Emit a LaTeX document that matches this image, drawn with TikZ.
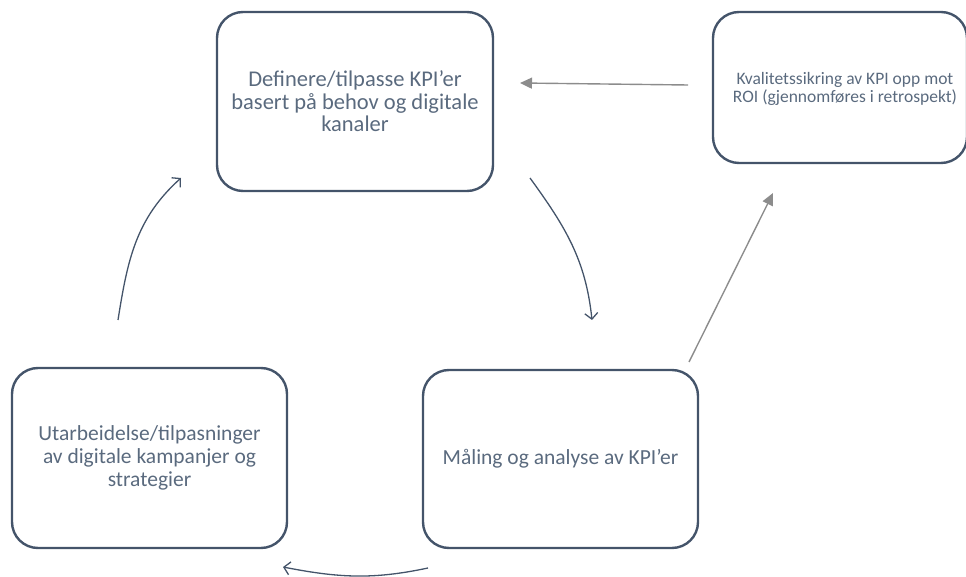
\documentclass[tikz,border=0pt]{standalone}
\usepackage{fontspec}
\setmainfont{Carlito}
\usetikzlibrary{arrows.meta}
\definecolor{boxline}{HTML}{44546A}
\definecolor{boxtext}{HTML}{5A6A7E}
\definecolor{grayarrow}{HTML}{8C8C8C}
\tikzset{
  stage/.style={draw=boxline, line width=2.4pt, rounded corners=26pt, align=center,
    text=boxtext, inner sep=0pt},
  darkarrow/.style={draw=boxline, line width=1.3pt, -{Straight Barb[length=6pt,width=13pt,line width=1.3pt]}},
  grayarr/.style={draw=grayarrow, line width=1.4pt, -{Triangle[length=12pt,width=11pt]}}
}
\begin{document}
\begin{tikzpicture}[x=1pt,y=1pt]
\clip (0,0) rectangle (966,576);
\node[stage, minimum width=276pt, minimum height=179pt, font=\fontsize{22.5}{22.5}\selectfont] (A) at (355,474.5)
  {Definere/tilpasse KPI’er\\basert på behov og digitale\\kanaler};
\node[stage, minimum width=254pt, minimum height=151pt] (B) at (840,488.5) {};
\node[text=boxtext, align=center, font=\fontsize{17.5}{18}\selectfont] (Bt) at (845,487.5)
  {Kvalitetssikring av KPI opp mot\\ROI (gjennomføres i retrospekt)};
\node[stage, minimum width=275pt, minimum height=178pt, font=\fontsize{21.5}{22}\selectfont] (C) at (560.5,117)
  {Måling og analyse av KPI’er};
\node[stage, minimum width=275pt, minimum height=180pt, font=\fontsize{21.5}{23}\selectfont] (D) at (149.5,118)
  {Utarbeidelse/tilpasninger\\av digitale kampanjer og\\strategier};
\coordinate (a1) at (530,398);
\coordinate (c1) at (592,256);
\coordinate (c2) at (689,214);
\coordinate (b1) at (773,383);
\coordinate (b2) at (688,491);
\coordinate (a2) at (520,493);
\coordinate (c3) at (428,8);
\coordinate (d1) at (283,9);
\coordinate (d2) at (118,256);
\coordinate (a3) at (181,398);
\draw[darkarrow] (a1) to[out=-54,in=96] (c1);
\draw[grayarr] (c2) -- (b1);
\draw[grayarr] (b2) -- (a2);
\draw[darkarrow] (c3) to[out=192,in=-11] (d1);
\draw[darkarrow] (d2) to[out=81,in=222] (a3);
\end{tikzpicture}
\end{document}
